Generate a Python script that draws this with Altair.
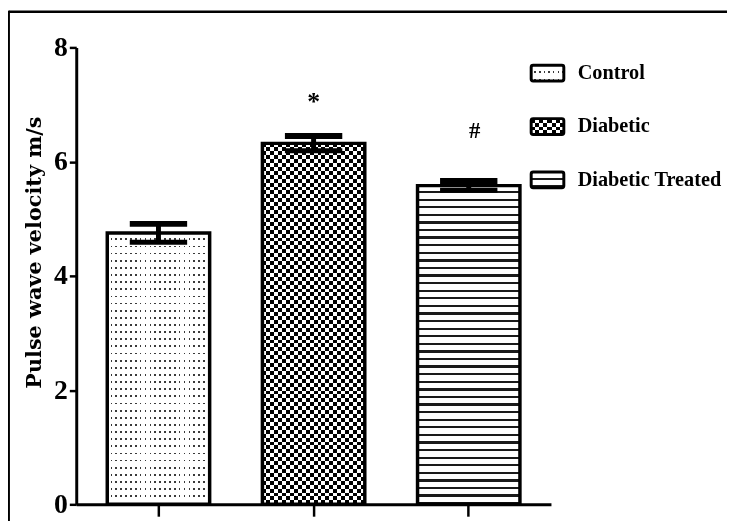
import altair as alt
import pandas as pd

# ---- data ----
groups = ["Control", "Diabetic", "Diabetic Treated"]
means = [4.75, 6.32, 5.58]
sems = [0.16, 0.13, 0.08]
sig_marks = ["", "*", "#"]
y_ticks = [0, 2, 4, 6, 8]
y_title = "Pulse wave velocity m/s"

df = pd.DataFrame({"group": groups, "mean": means, "sem": sems, "mark": sig_marks})

W, H = 480, 462
PX = H / 8.0  # pixels per unit (used only for pattern density)


def stripes(n, dark, frac, vertical, light="#ffffff"):
    stops = []
    for i in range(n):
        a = i / n
        b = (i + 1 - frac) / n
        c = (i + 1) / n
        stops += [
            {"offset": a, "color": light},
            {"offset": b, "color": light},
            {"offset": b, "color": dark},
            {"offset": c, "color": dark},
        ]
    return {
        "gradient": "linear",
        "stops": stops,
        "x1": 0,
        "y1": 0,
        "x2": 1 if vertical else 0,
        "y2": 0 if vertical else 1,
    }


BAR_W = 103.5


def patterns(group, h_px, w_px):
    """Return list of (fill, blend) layers that build the hatch pattern."""
    if group == "Control":  # dots
        rows = max(1, round(h_px / 7.3))
        cols = max(1, round(w_px / 5.0))
        return [
            (stripes(rows, "#3a3a3a", 0.25, False), None),
            (stripes(cols, "#3a3a3a", 0.32, True), "lighten"),
        ]
    if group == "Diabetic":  # checkerboard
        rows = max(1, round(h_px / 8.0))
        cols = max(1, round(w_px / 8.0))
        return [
            (stripes(rows, "#000000", 0.5, False), None),
            (stripes(cols, "#000000", 0.5, True), "difference"),
        ]
    rows = max(1, round(h_px / 7.6))  # horizontal lines
    return [(stripes(rows, "#1a1a1a", 0.3, False), None)]


x_enc = alt.X(
    "group:N",
    sort=groups,
    scale=alt.Scale(paddingInner=0.34, paddingOuter=0.2),
    axis=alt.Axis(
        title=None,
        labels=False,
        domainWidth=3,
        domainColor="black",
        tickSize=12,
        tickWidth=2.5,
        tickColor="black",
    ),
)
y_enc = alt.Y(
    "mean:Q",
    scale=alt.Scale(domain=[0, 8], nice=False),
    axis=alt.Axis(
        values=y_ticks,
        format="d",
        title=y_title,
        grid=False,
        domainWidth=3,
        domainColor="black",
        tickSize=7,
        tickWidth=2.5,
        tickColor="black",
        labelFont="Liberation Serif",
        labelFontWeight="bold",
        labelFontSize=28,
        labelColor="black",
        labelPadding=2,
        titleFont="DejaVu Serif",
        titleFontWeight="bold",
        titleFontSize=21,
        titleColor="black",
        titleAngle=270,
        titleX=-42,
        titleY=207,
        titleAlign="center",
        titleBaseline="middle",
    ),
)

base = alt.Chart(df).encode(x=x_enc)

layers = []
for g, m in zip(groups, means):
    for fill, blend in patterns(g, m * PX, BAR_W):
        kw = {"fill": fill, "strokeWidth": 0}
        if blend:
            kw["blend"] = blend
        layers.append(
            base.transform_filter(alt.datum.group == g).mark_bar(**kw).encode(y=y_enc)
        )

outline = base.mark_bar(filled=False, stroke="black", strokeWidth=3.5).encode(y=y_enc)
layers.append(outline)

err = base.transform_calculate(
    lo="datum.mean - datum.sem", hi="datum.mean + datum.sem"
)
layers.append(
    err.mark_rule(color="black", strokeWidth=5, opacity=1).encode(
        y=alt.Y("lo:Q"), y2=alt.Y2("hi:Q")
    )
)
layers.append(
    err.mark_tick(
        color="black", thickness=6, size=58, orient="horizontal", opacity=1
    ).encode(y=alt.Y("hi:Q"))
)
layers.append(
    err.mark_tick(
        color="black", thickness=5, size=58, orient="horizontal", opacity=1
    ).encode(y=alt.Y("lo:Q"))
)

layers.append(
    err.transform_filter(alt.datum.mark == "*")
    .mark_text(
        font="Liberation Serif",
        fontWeight="bold",
        fontSize=26,
        dy=-34,
        baseline="middle",
        color="black",
    )
    .encode(y=alt.Y("hi:Q"), text="mark:N")
)
layers.append(
    err.transform_filter(alt.datum.mark == "#")
    .mark_text(
        font="Liberation Serif",
        fontWeight="bold",
        fontSize=23,
        dy=-51,
        dx=6,
        baseline="middle",
        color="black",
    )
    .encode(y=alt.Y("hi:Q"), text="mark:N")
)

# ---- manual legend with patterned swatches ----
leg_x0, leg_x1 = 460, 493
for i, g in enumerate(groups):
    yc = 26 + 54 * i
    one = alt.Chart(df).transform_filter(alt.datum.group == g)
    for fill, blend in patterns(g, 16, 33):
        kw = {"fill": fill, "strokeWidth": 0}
        if blend:
            kw["blend"] = blend
        layers.append(
            one.mark_rect(**kw).encode(
                x=alt.value(leg_x0),
                x2=alt.value(leg_x1),
                y=alt.value(yc - 8),
                y2=alt.value(yc + 8),
            )
        )
    layers.append(
        one.mark_rect(
            filled=False, stroke="black", strokeWidth=3, cornerRadius=2
        ).encode(
            x=alt.value(leg_x0),
            x2=alt.value(leg_x1),
            y=alt.value(yc - 8),
            y2=alt.value(yc + 8),
        )
    )
    layers.append(
        one.mark_text(
            align="left",
            baseline="middle",
            font="Liberation Serif",
            fontWeight="bold",
            fontSize=20.5,
            color="black",
        ).encode(x=alt.value(507), y=alt.value(yc), text="group:N")
    )

# ---- outer frame of the figure ----
frame_src = alt.Chart(df).transform_filter(alt.datum.group == groups[0])
layers.append(
    frame_src.mark_rule(color="black", strokeWidth=2.5).encode(
        x=alt.value(-68.3), x2=alt.value(660), y=alt.value(-36)
    )
)
layers.append(
    frame_src.mark_rule(color="black", strokeWidth=2.5).encode(
        x=alt.value(-68.3), y=alt.value(-37), y2=alt.value(480)
    )
)

chart = (
    alt.layer(*layers)
    .properties(
        width=W,
        height=H,
        autosize=alt.AutoSizeParams(type="none"),
        padding={"left": 69, "top": 37, "right": 178, "bottom": 14},
        background="white",
    )
    .configure_view(stroke=None)
)

chart.save("out.html", embed_options={"renderer": "svg", "actions": False})
